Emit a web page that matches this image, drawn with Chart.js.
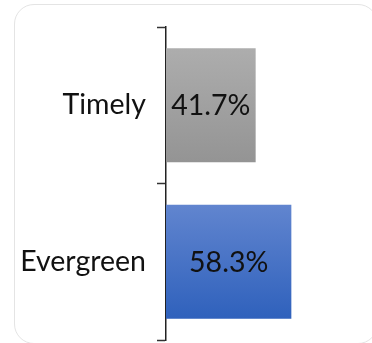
<!DOCTYPE html>
<html>
<head>
<meta charset="utf-8">
<script src="https://cdn.jsdelivr.net/npm/chart.js@4/dist/chart.umd.min.js"></script>
<style>
  html, body { margin: 0; padding: 0; background: #fff; overflow: hidden; }
  #wrap { position: relative; width: 372px; height: 343px; overflow: hidden; }
  .card {
    position: absolute; left: 14px; top: 4px; width: 364px; height: 340px;
    border: 1px solid #e4e4e4; border-radius: 20px; box-sizing: border-box;
  }
  #mixChart { position: absolute; left: 0; top: 0; }
</style>
</head>
<body>
<div id="wrap">
  <div class="card"></div>
  <canvas id="mixChart" width="390" height="343"></canvas>
</div>
<script>
// Share of content by type
const categories = ["Timely", "Evergreen"];
const shares = [41.7, 58.3];

// top / bottom gradient stops per bar
const gradTop = ["#adadad", "#6185cf"];
const gradBottom = ["#949494", "#2f61bc"];

const BAR_PCT = 0.73;
const FONT_SIZE = 28.5;

function barFill(ctx) {
  const chart = ctx.chart;
  const i = ctx.dataIndex;
  if (!chart.chartArea || !chart.scales.y) return gradTop[i];
  const y = chart.scales.y.getPixelForValue(i);
  const half = (chart.chartArea.height / categories.length) * BAR_PCT / 2;
  const g = chart.ctx.createLinearGradient(0, y - half, 0, y + half);
  g.addColorStop(0, gradTop[i]);
  g.addColorStop(1, gradBottom[i]);
  return g;
}

// value labels centred in each bar
const barLabels = {
  id: "barLabels",
  afterDatasetsDraw(chart) {
    const { ctx } = chart;
    const meta = chart.getDatasetMeta(0);
    ctx.save();
    ctx.font = FONT_SIZE + "px Lato";
    ctx.fillStyle = "#111";
    ctx.textAlign = "center";
    ctx.textBaseline = "middle";
    meta.data.forEach((bar, i) => {
      const cx = (bar.base + bar.x) / 2;
      ctx.fillText(shares[i].toFixed(1) + "%", cx, bar.y + 1);
    });
    ctx.restore();
  }
};

new Chart(document.getElementById("mixChart"), {
  type: "bar",
  data: {
    labels: categories,
    datasets: [{
      data: shares,
      backgroundColor: barFill,
      borderWidth: 0,
      barPercentage: BAR_PCT,
      categoryPercentage: 1
    }]
  },
  options: {
    indexAxis: "y",
    responsive: false,
    animation: false,
    layout: { padding: { top: 27, bottom: 3, left: 0, right: 9 } },
    plugins: { legend: { display: false }, tooltip: { enabled: false } },
    scales: {
      x: { display: false, min: 0, max: 100 },
      y: {
        afterFit(scale) {
          scale.width = 166;
          scale.paddingTop = 0;
          scale.paddingBottom = 0;
        },
        grid: {
          offset: true,
          drawOnChartArea: false,
          tickLength: 9,
          tickWidth: 1.5,
          tickColor: "#333"
        },
        border: { display: true, color: "#222", width: 1.5 },
        ticks: {
          color: "#111",
          padding: 11,
          font: { family: "Lato", size: FONT_SIZE }
        }
      }
    }
  },
  plugins: [barLabels]
});
</script>
</body>
</html>
